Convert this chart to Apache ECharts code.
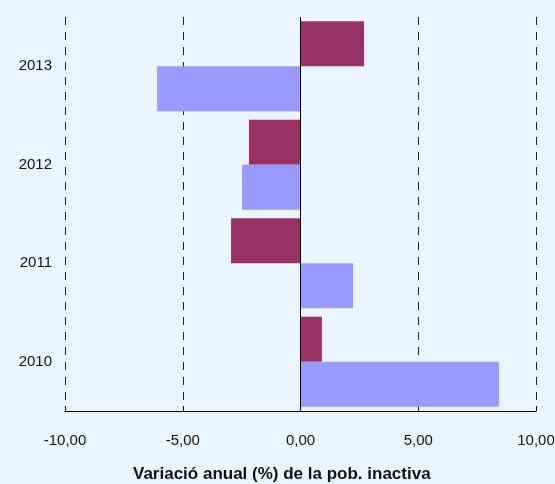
<!DOCTYPE html>
<html><head><meta charset="utf-8">
<script src="https://cdn.jsdelivr.net/npm/echarts@6/dist/echarts.min.js"></script>
<style>html,body{margin:0;padding:0;background:#EBF5FF}#c{width:555px;height:484px}</style>
</head><body><div id="c"></div>
<script>
const categories = ['2010', '2011', '2012', '2013'];
const seriesBlue = [8.43, 2.23, -2.48, -6.09];
const seriesMaroon = [0.91, -2.95, -2.19, 2.70];
const xTicks = [-10, -5, 0, 5, 10];
const axisTitle = 'Variació anual (%) de la pob. inactiva';

const chart = echarts.init(document.getElementById('c'));
const font = '"Liberation Sans", Arial, sans-serif';
chart.setOption({
  backgroundColor: '#EBF5FF',
  animation: false,
  title: {
    text: axisTitle, left: 128, top: 461,
    textStyle: { fontFamily: font, fontSize: 17, fontWeight: 'bold', color: '#111' }
  },
  grid: { left: 65, right: 19, top: 17, bottom: 73, outerBoundsMode: 'none', containLabel: false },
  xAxis: {
    type: 'value', min: xTicks[0], max: xTicks[xTicks.length - 1], interval: 5,
    axisLine: { show: true, onZero: false, lineStyle: { color: '#000', width: 1 } },
    axisTick: { show: true, inside: true, length: 5, lineStyle: { color: '#000' } },
    axisLabel: { margin: 22, color: '#111', fontFamily: font, fontSize: 15,
      formatter: v => v.toFixed(2).replace('.', ',') },
    splitLine: { show: true, lineStyle: { color: '#222', type: [8, 7], width: 1 } }
  },
  yAxis: {
    type: 'category', data: categories,
    axisLine: { show: false, onZero: false },
    axisTick: { show: false },
    axisLabel: { margin: 13, color: '#111', fontFamily: font, fontSize: 15 },
    splitLine: { show: false }
  },
  series: [
    { type: 'bar', data: seriesMaroon, itemStyle: { color: '#993366' },
      barGap: '0%', barCategoryGap: '8.6%',
      markLine: { silent: true, symbol: 'none', label: { show: false },
        lineStyle: { color: '#000', type: 'solid', width: 1 },
        data: [{ xAxis: 0 }] } },
    { type: 'bar', data: seriesBlue, itemStyle: { color: '#9999FF' },
      barGap: '0%', barCategoryGap: '8.6%' }
  ]
});
</script></body></html>
